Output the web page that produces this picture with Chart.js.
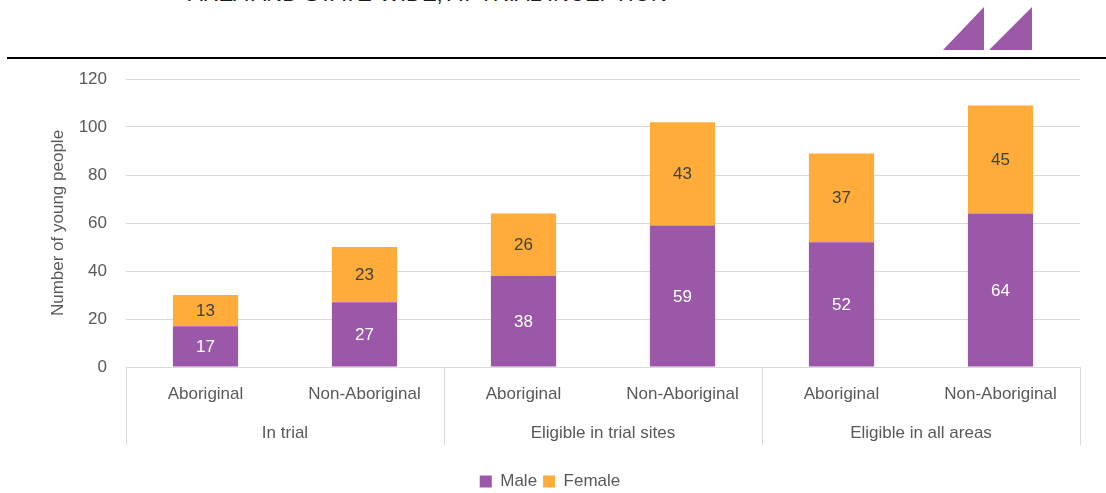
<!DOCTYPE html>
<html>
<head>
<meta charset="utf-8">
<script src="https://cdn.jsdelivr.net/npm/chart.js@4"></script>
<style>
  html, body { margin: 0; padding: 0; background: #fff; overflow: hidden; }
  #wrap { position: relative; width: 1106px; height: 493px; }
  #titre { position: absolute; left: 188px; top: -17px; font: 22px "Liberation Sans", Arial, sans-serif; color: #1a1a1a; line-height: 22px; white-space: nowrap; }
  #logo { position: absolute; left: 940px; top: 6px; }
  #trait { position: absolute; left: 7px; right: 0; top: 57px; height: 2px; background: #000; }
  #canvasWrap { position: absolute; left: 0; top: 0; width: 1106px; height: 493px; }
</style>
</head>
<body>
<div id="wrap">
  <div id="titre">AREA AND STATE-WIDE, AT TRIAL INCEPTION</div>
  <svg id="logo" width="96" height="46" viewBox="0 0 96 46">
    <polygon points="3,44 44,1 44,44" fill="#9b59a8"/>
    <polygon points="49,44 92,1 92,44" fill="#9b59a8"/>
  </svg>
  <div id="trait"></div>
  <div id="canvasWrap"><canvas id="chartJeunes"></canvas></div>
</div>
<script>
// Données
const categories = ['Aboriginal', 'Non-Aboriginal', 'Aboriginal', 'Non-Aboriginal', 'Aboriginal', 'Non-Aboriginal'];
const groupes = ['In trial', 'Eligible in trial sites', 'Eligible in all areas'];
const valeursHommes = [17, 27, 38, 59, 52, 64];
const valeursFemmes = [13, 23, 26, 43, 37, 45];
const yMax = 120;
const yPas = 20;

const police = '"Liberation Sans", Arial, sans-serif';
const gris = '#595959';
const grille = '#d9d9d9';

// Etiquettes de valeur au centre de chaque segment
const etiquettesValeurs = {
    id: 'etiquettesValeurs',
    afterDatasetsDraw(chart) {
        const ctx = chart.ctx;
        ctx.save();
        ctx.font = '17px ' + police;
        ctx.textAlign = 'center';
        ctx.textBaseline = 'middle';
        chart.data.datasets.forEach((ds, i) => {
            const meta = chart.getDatasetMeta(i);
            meta.data.forEach((bar, j) => {
                ctx.fillStyle = i === 0 ? '#ffffff' : '#404040';
                ctx.fillText(String(ds.data[j]), bar.x, (bar.y + bar.base) / 2 + 1);
            });
        });
        ctx.restore();
    }
};

// Séparateurs et libellés de groupe sous l'axe x
const axeGroupes = {
    id: 'axeGroupes',
    afterDraw(chart) {
        const ctx = chart.ctx;
        const x = chart.scales.x;
        const bas = chart.chartArea.bottom;
        ctx.save();
        ctx.strokeStyle = grille;
        ctx.lineWidth = 1;
        for (let g = 0; g <= groupes.length; g++) {
            const px = Math.round(x.getPixelForValue(g * 2 - 0.5)) + 0.5;
            ctx.beginPath();
            ctx.moveTo(px, bas);
            ctx.lineTo(px, bas + 78);
            ctx.stroke();
        }
        ctx.font = '17px ' + police;
        ctx.fillStyle = gris;
        ctx.textAlign = 'center';
        ctx.textBaseline = 'middle';
        groupes.forEach((nom, g) => {
            const cx = x.getPixelForValue(g * 2 + 0.5);
            ctx.fillText(nom, cx, bas + 66);
        });
        ctx.restore();
    }
};

const canvas = document.getElementById('chartJeunes');

new Chart(canvas, {
    type: 'bar',
    data: {
        labels: categories,
        datasets: [{
            label: 'Male',
            data: valeursHommes,
            backgroundColor: '#9b57a8',
            barPercentage: 0.41,
            categoryPercentage: 1
        }, {
            label: 'Female',
            data: valeursFemmes,
            backgroundColor: '#ffac3a',
            barPercentage: 0.41,
            categoryPercentage: 1
        }]
    },
    options: {
        responsive: true,
        maintainAspectRatio: false,
        animation: false,
        layout: {
            padding: { left: 20, top: 79, right: 26, bottom: -7 }
        },
        plugins: {
            legend: {
                display: true,
                position: 'bottom',
                labels: {
                    boxWidth: 12,
                    boxHeight: 12,
                    padding: 6,
                    color: gris,
                    font: { family: police, size: 17 }
                }
            },
            tooltip: { enabled: false }
        },
        scales: {
            x: {
                stacked: true,
                grid: { display: false },
                border: { display: false },
                ticks: {
                    color: gris,
                    padding: 9,
                    font: { family: police, size: 17 }
                },
                afterFit(scale) { scale.height = 100; }
            },
            y: {
                stacked: true,
                min: 0,
                max: yMax,
                ticks: {
                    stepSize: yPas,
                    color: gris,
                    padding: 19,
                    font: { family: police, size: 17 }
                },
                grid: { color: grille, drawTicks: false, lineWidth: 1 },
                border: { display: false },
                title: {
                    display: true,
                    text: 'Number of young people',
                    color: gris,
                    padding: { top: 28, bottom: 0 },
                    font: { family: police, size: 17 }
                },
                afterFit(scale) { scale.width = 106; }
            }
        }
    },
    plugins: [etiquettesValeurs, axeGroupes]
});
</script>
</body>
</html>
